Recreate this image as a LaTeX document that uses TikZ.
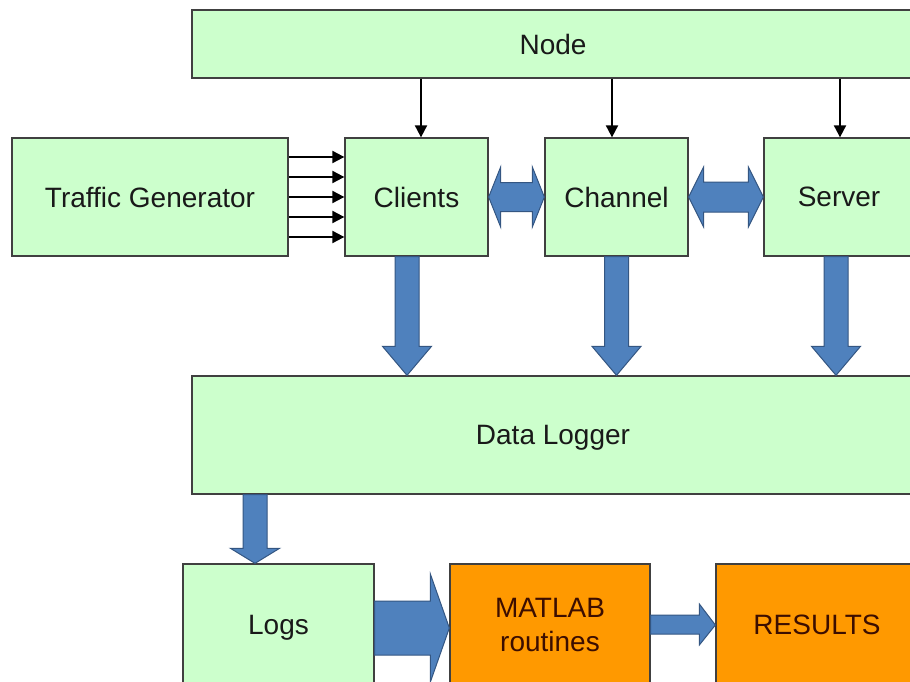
\documentclass[tikz,border=0pt]{standalone}
\usepackage{fontspec}
\setmainfont{Liberation Sans}
\usetikzlibrary{calc,arrows.meta}

\definecolor{boxgreen}{RGB}{204,255,204}
\definecolor{boxorange}{RGB}{255,153,0}
\definecolor{arrowblue}{RGB}{79,129,189}
\definecolor{arrowedge}{RGB}{52,86,130}
\definecolor{brownink}{RGB}{60,14,0}

\tikzset{
  block/.style={draw=black!75, line width=1.3pt, fill=boxgreen, text=black!90,
    minimum height=118pt, inner sep=0pt, align=center, text depth=0pt,
    font=\fontsize{28}{34}\selectfont},
  procblock/.style={block, fill=boxorange, text=brownink, minimum height=122pt},
  thinarrow/.style={-{Triangle[length=12pt,width=12pt]}, line width=2pt},
  blockarrow/.style={fill=arrowblue, draw=arrowedge, line width=1pt},
}

\begin{document}
\begin{tikzpicture}[x=1pt,y=-1pt]
    \useasboundingbox (0,0) rectangle (910,682);
    \clip (0,0) rectangle (910,682);

    % boxes
    \node[block, minimum width=722pt, minimum height=68pt] (node) at (553,44) {Node};
    \node[block, minimum width=276pt] (tgen) at (150,197) {Traffic Generator};
    \node[block, minimum width=143pt] (clients) at (416.5,197) {Clients};
    \node[block, minimum width=143pt] (channel) at (616.5,197) {Channel};
    \node[block, minimum width=150pt] (server) at (839,197) {Server};
    \node[block, minimum width=722pt] (logger) at (553,435) {Data Logger};
    \node[block, minimum width=191pt, minimum height=122pt] (logs) at (278.5,625) {Logs};
    \node[procblock, minimum width=200pt] (matlab) at (550,625) {MATLAB\\routines};
    \node[procblock, minimum width=202pt] (results) at (817,625) {RESULTS};

    % node -> clients, channel, server
    \foreach \b/\dx in {clients/4.5, channel/-4.5, server/1}{
      \coordinate (bot) at ($(\b.north)+(\dx,0)$);
      \draw[thinarrow] (bot |- node.south) -- (bot);
    }

    % traffic generator -> clients
    \foreach \dy in {-40,-20,0,20,40}
    \draw[thinarrow] ($(tgen.east)+(0,\dy)$) -- ($(clients.west)+(0,\dy)$);

    % two way arrows
    \draw[blockarrow] (clients.east) -- ++(12,-30) -- ++(0,15.5)
      -- ($(channel.west)+(-12,-14.5)$) -- ++(0,-15.5) -- (channel.west)
      -- ++(-12,30) -- ++(0,-15.5) -- ($(clients.east)+(12,14.5)$)
      -- ++(0,15.5) -- cycle;
    \draw[blockarrow] (channel.east) -- ++(15,-30) -- ++(0,15)
      -- ($(server.west)+(-15,-15)$) -- ++(0,-15) -- (server.west)
      -- ++(-15,30) -- ++(0,-15) -- ($(channel.east)+(15,15)$)
      -- ++(0,15) -- cycle;

    % down to the data logger
    \foreach \b/\dx in {clients/-9.5, channel/0, server/-3}{
      \coordinate (top) at ($(\b.south)+(\dx,0)$);
      \coordinate (tip) at (top |- logger.north);
      \draw[blockarrow] ($(top)+(-12,0)$) -- ($(tip)+(-12,-29)$)
        -- ($(tip)+(-24.5,-29)$) -- (tip) -- ($(tip)+(24.5,-29)$)
        -- ($(tip)+(12,-29)$) -- ($(top)+(12,0)$) -- cycle;
    }

    % data logger -> logs
    \coordinate (top) at ($(logger.south -| logs.north)+(-23.5,0)$);
    \coordinate (tip) at (top |- logs.north);
    \draw[blockarrow] ($(top)+(-12,0)$) -- ($(tip)+(-12,-15)$)
      -- ($(tip)+(-24.5,-15)$) -- (tip) -- ($(tip)+(24.5,-15)$)
      -- ($(tip)+(12,-15)$) -- ($(top)+(12,0)$) -- cycle;

    % logs -> matlab
    \draw[blockarrow] ($(logs.east)+(0,-24)$) -- ($(matlab.west)+(-19,-24)$)
      -- ($(matlab.west)+(-19,-51)$) -- ($(matlab.west)+(0,3)$)
      -- ($(matlab.west)+(-19,57)$) -- ($(matlab.west)+(-19,30)$)
      -- ($(logs.east)+(0,30)$) -- cycle;

    % matlab -> results
    \draw[blockarrow] ($(matlab.east)+(0,-10)$) -- ($(results.west)+(-16,-10)$)
      -- ($(results.west)+(-16,-21)$) -- (results.west)
      -- ($(results.west)+(-16,20)$) -- ($(results.west)+(-16,9)$)
      -- ($(matlab.east)+(0,9)$) -- cycle;

\end{tikzpicture}
\end{document}
